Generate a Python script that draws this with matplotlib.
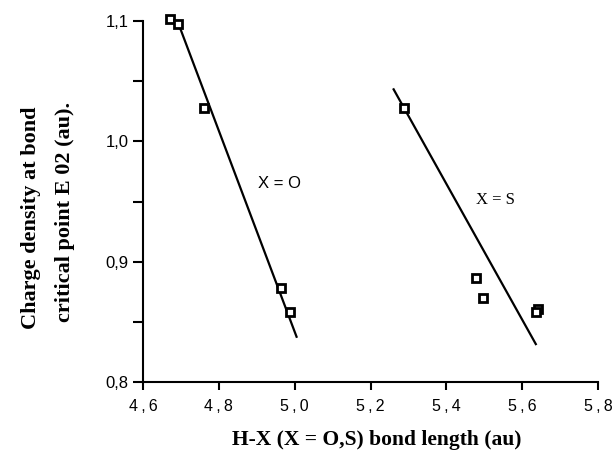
import matplotlib
matplotlib.use("Agg")
import matplotlib.pyplot as plt
from matplotlib.ticker import MultipleLocator

# H-O bonds
o_length = [4.670, 4.693, 4.762, 4.963, 4.989]
o_density = [1.102, 1.0975, 1.028, 0.878, 0.858]
o_fit_x = [4.692, 5.005]
o_fit_y = [1.099, 0.8376]

# H-S bonds
s_length = [5.288, 5.478, 5.497, 5.642, 5.636]
s_density = [1.0277, 0.8861, 0.8695, 0.8606, 0.8584]
s_fit_x = [5.261, 5.636]
s_fit_y = [1.0432, 0.8315]

x_ticks = [4.6, 4.8, 5.0, 5.2, 5.4, 5.6, 5.8]
y_ticks = [0.8, 0.9, 1.0, 1.1]

fig = plt.figure(figsize=(6.15, 4.58), dpi=100)
ax = fig.add_axes([143/615, 1-382/458, (598-143)/615, (382-21)/458])

mk = dict(marker="s", ms=5.3, mfc="white", mec="black", mew=2.0, ls="none",
          clip_on=False, zorder=3)
ax.plot(o_fit_x, o_fit_y, color="black", lw=1.6, clip_on=False)
ax.plot(s_fit_x, s_fit_y, color="black", lw=1.6)
ax.plot(o_length, o_density, **mk)
ax.plot(s_length, s_density, **mk)

ax.set_xlim(4.6, 5.8)
ax.set_ylim(0.8, 1.1)
ax.set_xticks(x_ticks)
ax.set_xticklabels([f"{v:.1f}".replace(".", "\u2009,\u2009") for v in x_ticks],
                   fontfamily=["Liberation Sans", "DejaVu Sans"], fontsize=11.5)
ax.set_yticks(y_ticks)
ax.set_yticklabels([f"{v:.1f}".replace(".", ",") for v in y_ticks],
                   fontfamily="Liberation Sans", fontsize=12)
ax.yaxis.set_minor_locator(MultipleLocator(0.05))

ax.spines["top"].set_visible(False)
ax.spines["right"].set_visible(False)
ax.spines["left"].set_linewidth(1.5)
ax.spines["bottom"].set_linewidth(1.5)
ax.tick_params(axis="x", which="major", length=6, width=1.5, pad=6, direction="out")
ax.tick_params(axis="y", which="both", length=7, width=1.5, pad=3.5, direction="out")

ax.text(4.96, 0.965, "X = O", fontfamily="Liberation Sans", fontsize=12,
        ha="center", va="center")
ax.text(5.53, 0.951, "X = S", fontfamily="Liberation Serif", fontsize=12,
        ha="center", va="center")

fig.text(377/615, 1-440/458, "H-X (X = O,S) bond length (au)",
         fontfamily="Liberation Serif", fontweight="bold", fontsize=15.5,
         ha="center", va="center")
fig.text(31/615, 1-218/458, "Charge density at bond", rotation=90,
         fontfamily="Liberation Serif", fontweight="bold", fontsize=16,
         ha="center", va="center")
fig.text(65/615, 1-212/458, "critical point E 02 (au).", rotation=90,
         fontfamily="Liberation Serif", fontweight="bold", fontsize=16,
         ha="center", va="center")

fig.savefig("out.png", dpi=100)
